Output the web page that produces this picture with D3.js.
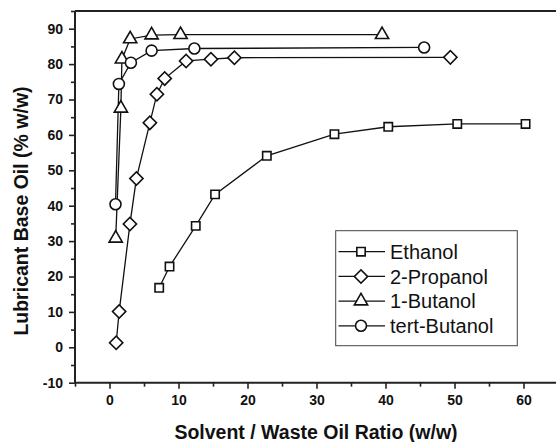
<!DOCTYPE html>
<html><head><meta charset="utf-8">
<script src="https://cdn.jsdelivr.net/npm/d3@7"></script>
<style>
html,body{margin:0;padding:0;background:#fff;}
svg{display:block;font-family:"Liberation Sans",Arial,sans-serif;}
</style></head>
<body>
<svg id="c" width="556" height="442"></svg>
<script>
const seriesNames = ["Ethanol", "2-Propanol", "1-Butanol", "tert-Butanol"];
const ethanolX = [7.2, 8.7, 12.5, 15.3, 22.8, 32.6, 40.4, 50.4, 60.3];
const ethanolY = [16.8, 22.8, 34.3, 43.2, 54.1, 60.2, 62.3, 63.1, 63.1];
const propanolX = [0.97, 1.4, 2.96, 3.9, 5.85, 6.87, 8.0, 11.1, 14.7, 18.1, 49.4];
const propanolY = [1.3, 10.1, 34.8, 47.7, 63.4, 71.5, 75.9, 80.9, 81.4, 81.8, 81.9];
const butanolX = [0.9, 1.65, 1.8, 3.0, 6.1, 10.3, 39.5];
const butanolY = [30.8, 67.5, 81.4, 87.1, 88.2, 88.3, 88.3];
const tertButanolX = [0.87, 1.36, 3.1, 6.1, 12.3, 45.6];
const tertButanolY = [40.4, 74.4, 80.4, 83.8, 84.4, 84.7];
const xTicks = [0, 10, 20, 30, 40, 50, 60];
const xMinorTicks = [-5, 5, 15, 25, 35, 45, 55, 65];
const yTicks = [-10, 0, 10, 20, 30, 40, 50, 60, 70, 80, 90];
const yMinorTicks = [-5, 5, 15, 25, 35, 45, 55, 65, 75, 85, 95];
const xTitle = "Solvent / Waste Oil Ratio (w/w)";
const yTitle = "Lubricant Base Oil (% w/w)";

const svg = d3.select("#c");
const x = d3.scaleLinear().domain([-5, 65]).range([75, 558]);
const y = d3.scaleLinear().domain([-10, 95]).range([382.7, 11]);

const series = [
  {name: seriesNames[0], xs: ethanolX, ys: ethanolY, sym: d3.symbolSquare, size: 70, rot: 0},
  {name: seriesNames[1], xs: propanolX, ys: propanolY, sym: d3.symbolSquare, size: 88, rot: 45},
  {name: seriesNames[2], xs: butanolX, ys: butanolY, sym: d3.symbolTriangle, size: 76, rot: 0},
  {name: seriesNames[3], xs: tertButanolX, ys: tertButanolY, sym: d3.symbolCircle, size: 95, rot: 0}
];

// frame top line
svg.append("line").attr("x1", x(-5)).attr("x2", 560).attr("y1", y(95)).attr("y2", y(95))
  .attr("stroke", "#222").attr("stroke-width", 2);

// x axis
const xAxis = svg.append("g").attr("transform", `translate(0,${y(-10)})`)
  .call(d3.axisBottom(x).tickValues(xTicks).tickSize(6).tickPadding(6).tickFormat(d => String(d)));
svg.append("g").attr("transform", `translate(0,${y(-10)})`)
  .call(d3.axisBottom(x).tickValues(xMinorTicks).tickSize(4).tickFormat(""))
  .select(".domain").remove();
xAxis.select(".domain").attr("d", `M${x(-5)},0H560`);
// y axis
const yAxis = svg.append("g").attr("transform", `translate(${x(-5)},0)`)
  .call(d3.axisLeft(y).tickValues(yTicks).tickSize(6).tickPadding(6).tickFormat(d => String(d)));
svg.append("g").attr("transform", `translate(${x(-5)},0)`)
  .call(d3.axisLeft(y).tickValues(yMinorTicks).tickSize(4).tickFormat(""))
  .select(".domain").remove();
yAxis.select(".domain").attr("d", `M0,${y(-10)}V${y(95)}`);

svg.selectAll(".domain").attr("stroke", "#222").attr("stroke-width", 2);
svg.selectAll(".tick line").attr("stroke", "#222").attr("stroke-width", 1.6);
svg.selectAll(".tick text").attr("font-size", 14).attr("font-weight", "bold")
  .attr("font-family", "Liberation Sans, Arial, sans-serif").attr("fill", "#111");

// axis titles
svg.append("text").attr("x", 316).attr("y", 439).attr("text-anchor", "middle")
  .attr("font-size", 19.5).attr("font-weight", "bold").attr("fill", "#111").text(xTitle);
svg.append("text").attr("transform", `translate(28,211) rotate(-90)`).attr("text-anchor", "middle")
  .attr("font-size", 19.5).attr("font-weight", "bold").attr("fill", "#111").text(yTitle);

// data
const line = d3.line().x(d => x(d[0])).y(d => y(d[1]));
series.forEach(s => {
  const pts = s.xs.map((v, i) => [v, s.ys[i]]);
  svg.append("path").attr("d", line(pts)).attr("fill", "none")
    .attr("stroke", "#111").attr("stroke-width", 1.3);
});
series.forEach(s => {
  const pts = s.xs.map((v, i) => [v, s.ys[i]]);
  const sym = d3.symbol().type(s.sym).size(s.size);
  svg.append("g").selectAll("path").data(pts).join("path")
    .attr("d", sym)
    .attr("transform", d => `translate(${x(d[0])},${y(d[1])}) rotate(${s.rot})`)
    .attr("fill", "#fff").attr("stroke", "#111").attr("stroke-width", 1.6);
});

// legend
const lg = svg.append("g");
lg.append("rect").attr("x", 335.7).attr("y", 230.7).attr("width", 181.6).attr("height", 115)
  .attr("fill", "#fff").attr("stroke", "#444").attr("stroke-width", 1);
series.forEach((s, i) => {
  const yy = 251.7 + i * 24.7;
  lg.append("line").attr("x1", 338.5).attr("x2", 385).attr("y1", yy).attr("y2", yy)
    .attr("stroke", "#111").attr("stroke-width", 1.3);
  lg.append("path").attr("d", d3.symbol().type(s.sym).size(s.size))
    .attr("transform", `translate(361,${yy}) rotate(${s.rot})`)
    .attr("fill", "#fff").attr("stroke", "#111").attr("stroke-width", 1.6);
  lg.append("text").attr("x", 390).attr("y", yy + 7.2).attr("font-size", 20)
    .attr("fill", "#111").text(s.name);
});
</script>
</body></html>
